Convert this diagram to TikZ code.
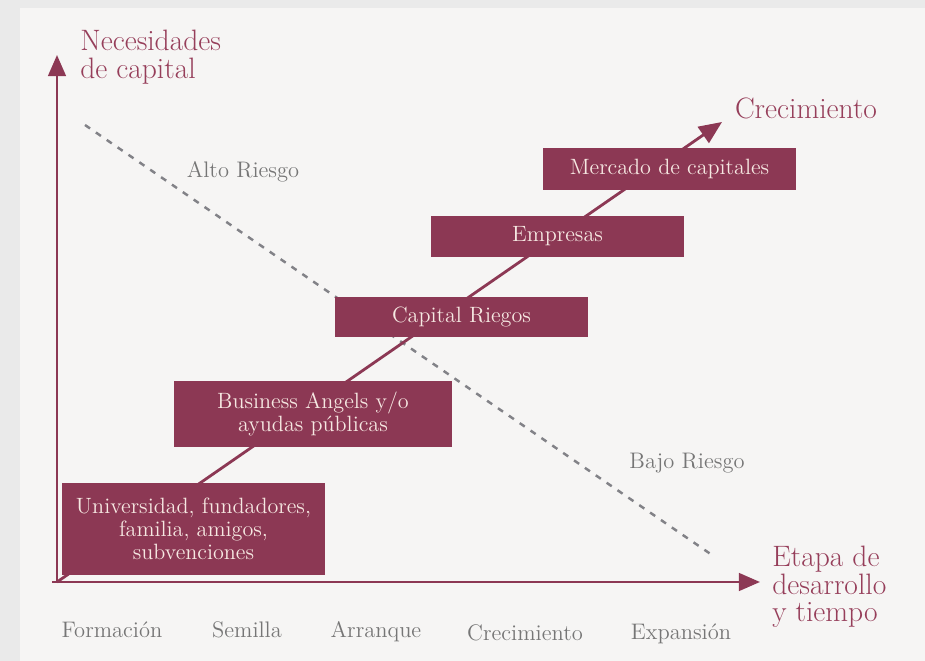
\documentclass[tikz,border=0pt]{standalone}
\usepackage{tikz}
\usetikzlibrary{arrows.meta}
\definecolor{granate}{RGB}{140,56,84}
\definecolor{granatetxt}{RGB}{150,62,90}
\definecolor{crema}{RGB}{246,232,226}
\definecolor{gristxt}{RGB}{118,118,118}
\definecolor{grislinea}{RGB}{130,130,135}
\definecolor{fondo}{RGB}{246,245,244}
\definecolor{borde}{RGB}{234,234,234}
\tikzset{
  caja/.style={fill=granate, text=crema, align=center, inner sep=0pt, font=\fontsize{12.6}{13}\selectfont},
  titulo/.style={text=granatetxt, align=left, inner sep=0pt, font=\fontsize{16.8}{15.6}\selectfont},
  etapa/.style={text=gristxt, inner sep=0pt, font=\fontsize{12.8}{14}\selectfont},
  eje/.style={draw=granate, line width=1.6pt, -{Triangle[length=12pt,width=10pt]}},
  limite/.style={draw=grislinea, line width=1.4pt, dash pattern=on 3.5pt off 4pt}
}
\begin{document}
\begin{tikzpicture}[x=0.02cm, y=-0.02cm]
\fill[borde] (0,0) rectangle (925,661);
\fill[fondo] (20,8) rectangle (925,661);
\useasboundingbox (0,0) rectangle (925,661);
\coordinate (o) at (57,582);
\coordinate (x0) at (52,582);
\coordinate (ytop) at (57,55);
\coordinate (xend) at (760,582);
\coordinate (gtip) at (722,122);
\coordinate (riesgo1) at (85,125);
\coordinate (riesgo2) at (712,555);
\draw[eje] (o) -- (ytop);
\draw[eje] (x0) -- (xend);
\draw[limite] (riesgo1) -- (riesgo2);
\draw[eje, -{Triangle[length=13pt,width=11pt]}] (o) -- (gtip);
\node[caja, minimum width=5.26cm, minimum height=1.84cm] (univ) at (193.5,529) {Universidad, fundadores,\\ familia, amigos,\\ subvenciones};
\node[caja, minimum width=5.56cm, minimum height=1.34cm] (angels) at (313,414) {Business Angels y/o\\ ayudas públicas};
\node[caja, minimum width=5.06cm, minimum height=0.8cm] (capital) at (461.5,317) {Capital Riegos};
\node[caja, minimum width=5.06cm, minimum height=0.82cm] (empresas) at (557.5,236.5) {Empresas};
\node[caja, minimum width=5.06cm, minimum height=0.84cm] (mercado) at (669.5,169) {Mercado de capitales};
\node[titulo, anchor=west] (necesidades) at (80,57) {Necesidades\\de capital};
\node[titulo] (crecimiento) at (806,108) {Crecimiento};
\node[titulo, anchor=west] (etapa) at (772,587) {Etapa de\\desarrollo\\y tiempo};
\node[etapa] (alto) at (243,172) {Alto Riesgo};
\node[etapa] (bajo) at (687,463) {Bajo Riesgo};
\node[etapa] (formacion) at (112,630) {Formación};
\node[etapa] (semilla) at (247,630) {Semilla};
\node[etapa] (arranque) at (376,632) {Arranque};
\node[etapa] (crec) at (525,633) {Crecimiento};
\node[etapa] (expansion) at (681,634) {Expansión};
\end{tikzpicture}
\end{document}
